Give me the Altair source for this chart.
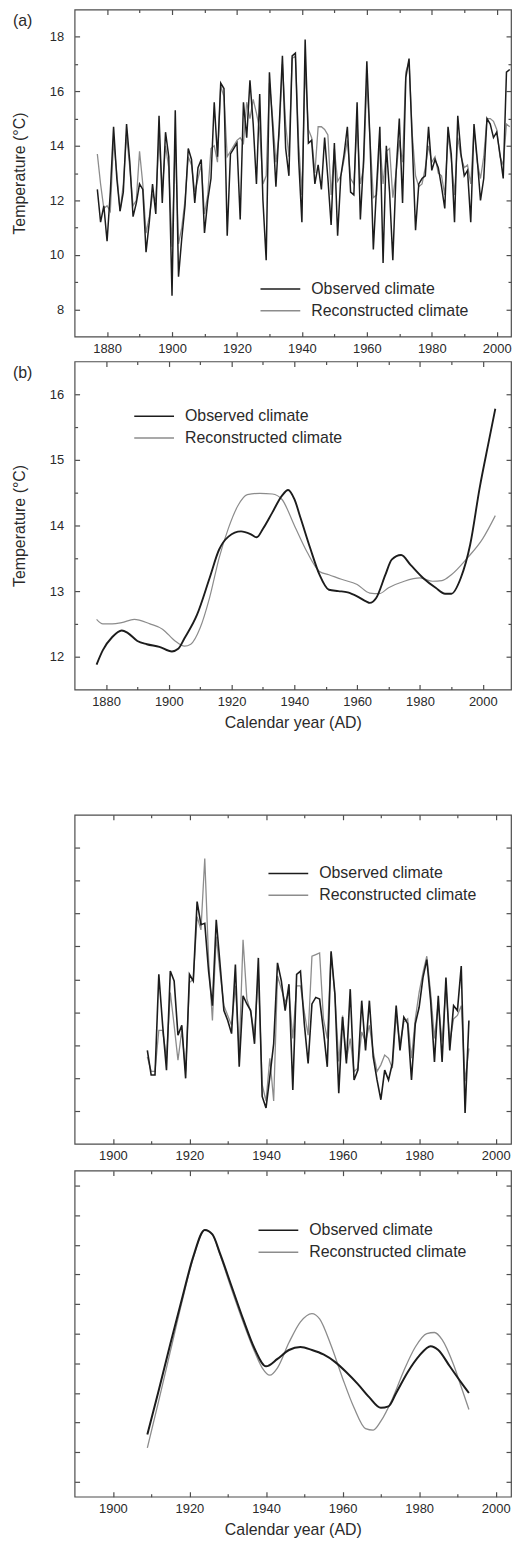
import altair as alt
import pandas as pd

OBS = "Observed climate"
REC = "Reconstructed climate"

years_a = list(range(1877, 2005))
obs_a = [12.4, 11.2, 11.8, 10.5, 12.3, 14.7, 12.8, 11.6, 12.3, 14.8,
         13.4, 11.4, 11.9, 12.6, 12.4, 10.1, 11.2, 12.6, 11.5, 15.1,
         11.9, 14.5, 13.6, 8.5, 15.3, 9.2, 10.6, 11.8, 13.9, 13.5,
         11.9, 13.2, 13.5, 10.8, 12.0, 12.8, 15.6, 13.6, 16.3, 16.1,
         10.7, 13.7, 13.9, 14.1, 11.3, 15.6, 14.3, 16.4, 14.8, 12.6,
         15.9, 12.0, 9.8, 16.7, 14.7, 12.5, 14.7, 17.3, 13.9, 12.9,
         17.3, 17.4, 13.5, 11.2, 17.9, 14.1, 14.2, 12.6, 13.3, 12.4,
         14.3, 12.8, 11.1, 14.1, 10.7, 12.9, 13.7, 14.7, 12.3, 12.2,
         15.6, 11.3, 13.5, 17.1, 14.1, 10.2, 12.5, 14.7, 9.7, 14.0,
         12.3, 9.8, 13.0, 15.0, 11.9, 16.5, 17.2, 14.1, 10.9, 12.6,
         12.8, 12.9, 14.7, 13.1, 13.5, 13.2, 12.5, 11.7, 14.7, 13.7,
         11.2, 15.1, 13.7, 12.9, 13.1, 11.2, 14.8, 13.5, 12.0, 12.8,
         15.0, 14.8, 14.3, 14.5, 13.7, 12.8, 16.7, 16.8]
rec_a = [13.7, 12.6, 11.7, 11.8, 11.6, 14.2, 13.0, 11.6, 12.6, 14.4,
         13.2, 11.8, 12.0, 13.8, 12.6, 10.8, 11.4, 12.2, 12.0, 14.3,
         12.4, 14.0, 13.2, 10.3, 14.2, 10.4, 11.0, 12.0, 13.6, 13.3,
         12.3, 12.8, 13.3, 11.5, 12.2, 13.9, 14.0, 13.4, 16.2, 15.8,
         13.6, 13.8, 14.0, 14.2, 14.3, 14.1, 15.6, 15.0, 15.7, 15.2,
         14.6, 12.6, 12.9, 16.3, 15.0, 13.4, 14.4, 17.0, 14.8, 13.6,
         17.2, 17.3, 14.1, 12.2, 16.9, 14.6, 14.3, 13.0, 14.7, 14.7,
         14.6, 14.4, 12.2, 13.9, 12.7, 12.9, 13.5, 14.2, 12.8, 12.6,
         14.8, 12.6, 13.2, 16.4, 14.2, 12.1, 12.2, 14.2, 12.6, 13.8,
         13.9, 12.1, 13.0, 14.2, 13.4, 16.7, 17.1, 14.4, 12.9, 12.5,
         12.6, 13.2, 14.0, 13.4, 13.6, 13.0, 12.9, 12.2, 14.4, 13.5,
         12.2, 14.3, 13.6, 13.2, 13.3, 12.6, 14.6, 13.4, 12.8, 13.6,
         15.0, 15.0, 14.9, 14.6, 13.6, 13.3, 14.8, 14.7]

years_b_obs = [1877, 1879, 1882, 1885, 1887, 1890, 1893, 1897, 1901, 1903,
               1905, 1909, 1913, 1916, 1919, 1923, 1926, 1928, 1930, 1933,
               1936, 1938, 1940, 1942, 1945, 1948, 1951, 1954, 1957, 1960,
               1963, 1964, 1966, 1969, 1971, 1974, 1977, 1981, 1985, 1988,
               1990, 1993, 1996, 1999, 2002, 2004]
obs_b = [11.88, 12.1, 12.3, 12.4, 12.36, 12.24, 12.19, 12.15, 12.08, 12.12,
         12.28, 12.64, 13.2, 13.63, 13.83, 13.91, 13.87, 13.82, 13.95, 14.2,
         14.45, 14.54, 14.4, 14.11, 13.66, 13.25, 13.02, 13.0, 12.98, 12.92,
         12.84, 12.82, 12.89, 13.25, 13.48, 13.55, 13.4, 13.2, 13.05, 12.96,
         12.96, 13.2, 13.71, 14.57, 15.3, 15.78]
years_b_rec = [1877, 1879, 1882, 1885, 1889, 1894, 1898, 1902, 1905, 1907,
               1910, 1913, 1916, 1919, 1922, 1925, 1929, 1933, 1936, 1940,
               1944, 1948, 1951, 1955, 1960, 1964, 1967, 1970, 1975, 1980,
               1984, 1987, 1990, 1995, 2000, 2004]
rec_b = [12.57, 12.5, 12.5, 12.52, 12.57, 12.5, 12.42, 12.24, 12.16, 12.19,
         12.44, 12.9, 13.5, 13.96, 14.3, 14.47, 14.49, 14.48, 14.4, 14.0,
         13.6, 13.3, 13.25, 13.18, 13.1, 12.97, 12.96, 13.05, 13.15, 13.2,
         13.15, 13.16, 13.25, 13.5, 13.8, 14.15]

years_c = list(range(1909, 1994))
obs_c = [2.84, 2.09, 2.09, 5.15, 3.6, 2.24, 5.25, 4.95, 3.3, 3.6,
         1.99, 5.15, 4.95, 7.36, 6.66, 6.7, 5.25, 4.2, 6.81, 5.45,
         4.05, 3.75, 3.35, 5.45, 2.34, 4.5, 4.25, 4.05, 3.04, 5.65,
         1.44, 1.09, 2.04, 3.04, 5.5, 4.95, 4.05, 4.85, 1.64, 5.15,
         5.25, 3.65, 2.44, 4.25, 4.45, 4.4, 3.45, 2.34, 5.85, 4.55,
         1.54, 3.85, 2.44, 4.7, 1.94, 2.24, 4.35, 2.84, 4.35, 2.64,
         1.94, 1.34, 2.24, 1.94, 2.44, 4.2, 2.84, 3.85, 3.65, 1.94,
         3.65, 4.15, 5.05, 5.6, 4.35, 2.49, 4.5, 2.49, 5.05, 2.84,
         4.2, 4.05, 5.4, 0.94, 3.75]
rec_c = [2.64, 2.2, 2.2, 3.45, 3.45, 2.6, 4.6, 3.6, 2.54, 3.45,
         2.2, 4.9, 5.0, 6.9, 6.5, 8.67, 5.6, 3.75, 6.3, 5.2,
         4.2, 3.9, 3.6, 4.8, 2.8, 6.2, 4.4, 4.0, 3.3, 5.2,
         1.8, 1.3, 2.6, 1.3, 5.1, 4.7, 4.3, 4.6, 3.2, 4.8,
         4.8, 4.0, 3.3, 5.7, 5.75, 5.8, 3.8, 3.2, 5.8, 4.5,
         2.5, 3.9, 2.55, 3.2, 2.2, 2.3, 3.4, 3.1, 3.6, 2.8,
         2.2, 2.4, 2.7, 2.6, 2.3, 3.9, 3.0, 3.7, 3.8, 2.6,
         3.8, 4.6, 5.2, 5.7, 4.6, 3.2, 4.3, 3.1, 4.8, 3.1,
         3.8, 3.9, 4.2, 1.9, 2.9]

years_d_obs = [1909, 1912, 1915, 1918, 1921, 1924, 1926, 1928, 1931, 1934,
               1937, 1940, 1943, 1946, 1949, 1952, 1955, 1958, 1961, 1964,
               1967, 1970, 1972, 1974, 1977, 1980, 1983, 1985, 1988, 1991, 1993]
obs_d = [1.6, 3.1, 4.65, 6.15, 7.6, 8.5, 8.35, 7.7, 6.6, 5.5,
         4.5, 3.9, 4.15, 4.45, 4.55, 4.45, 4.3, 4.05, 3.7, 3.3,
         2.85, 2.5, 2.55, 3.0, 3.7, 4.25, 4.58, 4.45, 3.9, 3.35, 3.0]
years_d_rec = [1909, 1912, 1915, 1918, 1921, 1924, 1926, 1928, 1931, 1934,
               1937, 1939, 1941, 1943, 1946, 1949, 1952, 1954, 1957, 1960,
               1963, 1966, 1968, 1970, 1973, 1976, 1979, 1982, 1984, 1986,
               1989, 1991, 1993]
rec_d = [1.15, 2.75, 4.4, 6.05, 7.55, 8.5, 8.35, 7.65, 6.5, 5.4,
         4.4, 3.85, 3.6, 3.85, 4.7, 5.4, 5.68, 5.5, 4.6, 3.5,
         2.5, 1.8, 1.75, 2.05, 2.8, 3.75, 4.55, 5.0, 5.04, 4.8,
         3.95, 3.2, 2.44]

x_major_ab = [1880, 1900, 1920, 1940, 1960, 1980, 2000]
x_minor_ab = [1890, 1910, 1930, 1950, 1970, 1990]
x_major_cd = [1900, 1920, 1940, 1960, 1980, 2000]
x_minor_cd = [1910, 1930, 1950, 1970, 1990]
y_major_a = [8, 10, 12, 14, 16, 18]
y_minor_a = [9, 11, 13, 15, 17]
y_major_b = [12, 13, 14, 15, 16]
y_minor_b = [12.5, 13.5, 14.5, 15.5]
y_ticks_c = [1, 2, 3, 4, 5, 6, 7, 8, 9]
y_ticks_d = [0, 1, 2, 3, 4, 5, 6, 7, 8, 9, 10]

BLACK = "#1c1c1c"
GRAY = "#8c8c8c"
FRAME = "#4d4d4d"
TEXT = "#2a2a2a"
FONT = "Liberation Sans"


def frame_df(y_obs, v_obs, y_rec, v_rec):
    return pd.DataFrame({
        "year": list(y_obs) + list(y_rec),
        "value": list(v_obs) + list(v_rec),
        "series": [OBS] * len(y_obs) + [REC] * len(y_rec),
    })


def tick_axis(orient, values, size):
    return alt.Axis(orient=orient, values=values, labels=False, domain=False,
                    grid=False, ticks=True, tickSize=size, offset=-size,
                    minExtent=0, maxExtent=0,
                    tickColor=FRAME, tickWidth=1.2, title=None)


def panel(df, xdom, ydom, w, h, xmaj, xmin, ymaj, ymin, ylab, xtitle,
          leg_x, leg_y, label, interp, w_obs, w_rec):
    xs = alt.Scale(domain=xdom, nice=False, zero=False)
    ys = alt.Scale(domain=ydom, nice=False, zero=False)
    color = alt.Color(
        "series:N",
        scale=alt.Scale(domain=[OBS, REC], range=[BLACK, GRAY]),
        legend=alt.Legend(orient="none", legendX=leg_x, legendY=leg_y,
                          title=None, symbolType="M-2,0H2", symbolSize=400,
                          symbolStrokeWidth=1.5, labelOffset=20, rowPadding=3,
                          labelFontSize=16, labelColor=TEXT, labelFont=FONT,
                          direction="vertical"),
    )
    if xtitle:
        x_lab = alt.Axis(orient="bottom", values=xmaj, format="d", ticks=False,
                         domain=False, grid=False, labelPadding=6,
                         labelFlush=False, title=xtitle, titlePadding=6,
                         minExtent=0)
    else:
        x_lab = alt.Axis(orient="bottom", values=xmaj, format="d", ticks=False,
                         domain=False, grid=False, labelPadding=6,
                         labelFlush=False, title=None, minExtent=0)
    if ylab:
        y_lab = alt.Axis(orient="left", values=ymaj, format="d", ticks=False,
                         domain=False, grid=False, labelPadding=11,
                         labelFlush=False, title="Temperature (°C)",
                         titlePadding=22, minExtent=0)
    else:
        y_lab = None

    base = alt.Chart(df)
    gray = base.transform_filter(alt.datum.series == REC).mark_line(
        interpolate=interp, strokeWidth=w_rec
    ).encode(
        x=alt.X("year:Q", scale=xs, axis=x_lab),
        y=alt.Y("value:Q", scale=ys, axis=y_lab),
        color=color,
    )
    black = base.transform_filter(alt.datum.series == OBS).mark_line(
        interpolate=interp, strokeWidth=w_obs
    ).encode(
        x=alt.X("year:Q", scale=xs, axis=None),
        y=alt.Y("value:Q", scale=ys, axis=None),
        color=color,
    )
    inv1 = base.mark_point(opacity=0).encode(
        x=alt.X("year:Q", scale=xs, axis=tick_axis("bottom", xmaj, 5)),
        y=alt.Y("value:Q", scale=ys, axis=tick_axis("left", ymaj, 5)),
    )
    inv2 = base.mark_point(opacity=0).encode(
        x=alt.X("year:Q", scale=xs, axis=tick_axis("bottom", xmin, 3)),
        y=alt.Y("value:Q", scale=ys, axis=tick_axis("left", ymin, 3)),
    )
    inv3 = base.mark_point(opacity=0).encode(
        x=alt.X("year:Q", scale=xs, axis=tick_axis("top", xmaj, 5)),
        y=alt.Y("value:Q", scale=ys, axis=tick_axis("right", ymaj, 5)),
    )
    inv4 = base.mark_point(opacity=0).encode(
        x=alt.X("year:Q", scale=xs, axis=tick_axis("top", xmin, 3)),
        y=alt.Y("value:Q", scale=ys, axis=tick_axis("right", ymin, 3)),
    )
    layers = [gray, black, inv1, inv2, inv3, inv4]
    if label:
        lab = alt.Chart(pd.DataFrame({"label": [label]})).mark_text(
            align="left", baseline="alphabetic", fontSize=16, font=FONT,
            color=TEXT
        ).encode(text="label:N", x=alt.value(-62), y=alt.value(17))
        layers.append(lab)
    return alt.layer(*layers).resolve_axis(
        x="independent", y="independent"
    ).properties(width=w, height=h)


def spacer(h):
    return alt.Chart(pd.DataFrame({"v": [0]})).mark_point(opacity=0).encode(
        x=alt.X("v:Q", axis=None), y=alt.Y("v:Q", axis=None)
    ).properties(width=10, height=h,
                 view=alt.ViewBackground(stroke="transparent", fill="transparent"))


W = 439
pa = panel(frame_df(years_a, obs_a, years_a, rec_a), [1870, 2004.4], [7, 19],
           W, 329, x_major_ab, x_minor_ab, y_major_a, y_minor_a, True, None,
           196, 270, "(a)", "linear", 1.5, 1.3)
pb = panel(frame_df(years_b_obs, obs_b, years_b_rec, rec_b), [1870, 2009],
           [11.5, 16.5], W, 330, x_major_ab, x_minor_ab, y_major_b, y_minor_b,
           True, "Calendar year (AD)", 69, 44, "(b)", "monotone", 1.9, 1.2)
pc = panel(frame_df(years_c, obs_c, years_c, rec_c), [1890, 2004], [0, 10],
           W, 331, x_major_cd, x_minor_cd, y_ticks_c, [], False, None,
           204, 48, None, "linear", 1.6, 1.3)
pd_ = panel(frame_df(years_d_obs, obs_d, years_d_rec, rec_d), [1890, 2004],
            [-0.5, 10.5], W, 328, x_major_cd, x_minor_cd, y_ticks_d, [], False,
            "Calendar year (AD)", 194, 49, None, "monotone", 2.0, 1.3)

chart = alt.vconcat(
    pa, spacer(25), pb, spacer(126), pc, spacer(27), pd_,
    spacing=0, bounds="flush"
).resolve_scale(
    color="independent"
).properties(
    padding={"left": 2, "top": -5, "right": 0, "bottom": 0},
    background="white"
).configure_view(
    stroke=FRAME, strokeWidth=1.2
).configure_axis(
    grid=False, labelFont=FONT, titleFont=FONT, labelFontSize=13,
    titleFontSize=16, labelColor=TEXT, titleColor=TEXT,
    titleFontWeight="normal"
).configure_legend(
    labelFont=FONT
)

chart.save("out.html", embed_options={"renderer": "svg", "actions": False})
